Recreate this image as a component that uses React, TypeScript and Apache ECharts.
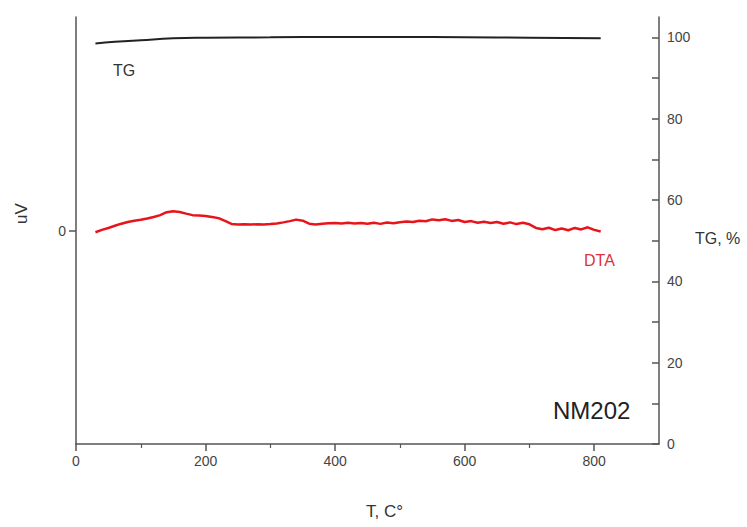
import React, { useEffect, useRef } from "react";
import * as echarts from "echarts";

const xTicks = [0, 200, 400, 600, 800];
const tgTicks = [0, 20, 40, 60, 80, 100];

const tgT = [30, 60, 100, 150, 200, 300, 400, 500, 600, 700, 810];
const tgV = [98.5, 98.9, 99.3, 99.75, 99.9, 100.0, 100.1, 100.1, 100.0, 99.9, 99.75];

const dtaT = [
  30, 40, 50, 60, 70, 80, 90, 100, 110, 120, 130, 140, 150, 160, 170, 180, 190, 200,
  210, 220, 230, 240, 250, 260, 270, 280, 290, 300, 310, 320, 330, 340, 350, 360, 370,
  380, 390, 400, 410, 420, 430, 440, 450, 460, 470, 480, 490, 500, 510, 520, 530, 540,
  550, 560, 570, 580, 590, 600, 610, 620, 630, 640, 650, 660, 670, 680, 690, 700, 710,
  720, 730, 740, 750, 760, 770, 780, 790, 800, 810,
];
const dtaV = [
  -0.8, 0.3, 1.2, 2.2, 3.2, 4.0, 4.6, 5.0, 5.6, 6.3, 7.2, 8.6, 9.0, 8.7, 7.9, 7.2, 7.0, 6.8,
  6.3, 5.8, 4.5, 3.1, 2.8, 2.9, 2.8, 2.9, 2.8, 3.0, 3.3, 3.8, 4.4, 5.1, 4.6, 3.2, 2.8,
  3.2, 3.4, 3.5, 3.3, 3.6, 3.3, 3.5, 3.2, 3.6, 3.1, 3.7, 3.4, 3.9, 4.2, 4.0, 4.6, 4.3,
  5.2, 4.8, 5.3, 4.5, 4.9, 4.0, 4.4, 3.6, 4.1, 3.5, 4.0, 3.2, 3.8, 3.0, 3.6, 2.9, 1.2,
  0.6, 1.3, 0.2, 0.9, 0.1, 1.2, 0.5, 1.5, 0.3, -0.5,
];

const FONT = "Liberation Sans, Arial, sans-serif";

export default function App() {
  const ref = useRef<HTMLDivElement>(null);
  useEffect(() => {
    if (!ref.current) return;
    const chart = echarts.init(ref.current, undefined, { renderer: "svg" });
    const axisColor = "#555";
    chart.setOption({
      animation: false,
      backgroundColor: "#fff",
      grid: { left: 76, right: 88, top: 17, bottom: 83, containLabel: false },
      xAxis: {
        type: "value",
        min: 0,
        max: 900,
        interval: 200,
        axisLine: { onZero: false, lineStyle: { color: axisColor, width: 1.5 } },
        axisTick: { show: true, length: 7, lineStyle: { color: axisColor, width: 1.5 }, customValues: xTicks },
        minorTick: { show: true, splitNumber: 2, length: 4, lineStyle: { color: axisColor, width: 1.2 } },
        splitLine: { show: false },
        axisLabel: { color: "#444", fontSize: 14, fontFamily: FONT, margin: 10, customValues: xTicks },
      },
      yAxis: [
        {
          type: "value",
          min: -100,
          max: 100,
          interval: 100,
          position: "left",
          axisLine: { show: true, onZero: false, lineStyle: { color: axisColor, width: 1.5 } },
          axisTick: { show: true, length: 7, lineStyle: { color: axisColor, width: 1.5 }, customValues: [0] },
          axisLabel: { color: "#444", fontSize: 14, fontFamily: FONT, margin: 10, customValues: [0] },
          splitLine: { show: false },
        },
        {
          type: "value",
          min: 0,
          max: 105,
          position: "right",
          axisLine: { show: true, onZero: false, lineStyle: { color: axisColor, width: 1.5 } },
          axisTick: { show: true, inside: true, length: 7, lineStyle: { color: axisColor, width: 1.5 }, customValues: [0, 10, 20, 30, 40, 50, 60, 70, 80, 90, 100] },
          axisLabel: { color: "#444", fontSize: 14, fontFamily: FONT, margin: 8, customValues: tgTicks },
          splitLine: { show: false },
        },
      ],
      series: [
        {
          name: "TG",
          type: "line",
          yAxisIndex: 1,
          data: tgT.map((t, i) => [t, tgV[i]]),
          smooth: true,
          showSymbol: false,
          lineStyle: { color: "#222", width: 2 },
        },
        {
          name: "DTA",
          type: "line",
          yAxisIndex: 0,
          data: dtaT.map((t, i) => [t, dtaV[i]]),
          showSymbol: false,
          lineStyle: { color: "#e8141c", width: 2.5 },
        },
      ],
      graphic: [
        { type: "text", left: 113, top: 62, style: { text: "TG", fill: "#333", fontSize: 16, fontFamily: FONT } },
        { type: "text", left: 584, top: 252, style: { text: "DTA", fill: "#e0303a", fontSize: 16, fontFamily: FONT } },
        { type: "text", left: 553, top: 398, style: { text: "NM202", fill: "#222", fontSize: 24, fontFamily: FONT } },
        { type: "text", left: 695, top: 230, style: { text: "TG, %", fill: "#333", fontSize: 16, fontFamily: FONT } },
        { type: "text", left: 366, top: 503, style: { text: "T, C°", fill: "#333", fontSize: 17, fontFamily: FONT } },
        {
          type: "text",
          x: 13,
          y: 224,
          rotation: Math.PI / 2,
          style: { text: "uV", fill: "#333", fontSize: 17, fontFamily: FONT },
        },
      ],
    });
    return () => chart.dispose();
  }, []);
  return <div ref={ref} style={{ position: "fixed", left: 0, top: 0, width: 747, height: 527 }} />;
}
